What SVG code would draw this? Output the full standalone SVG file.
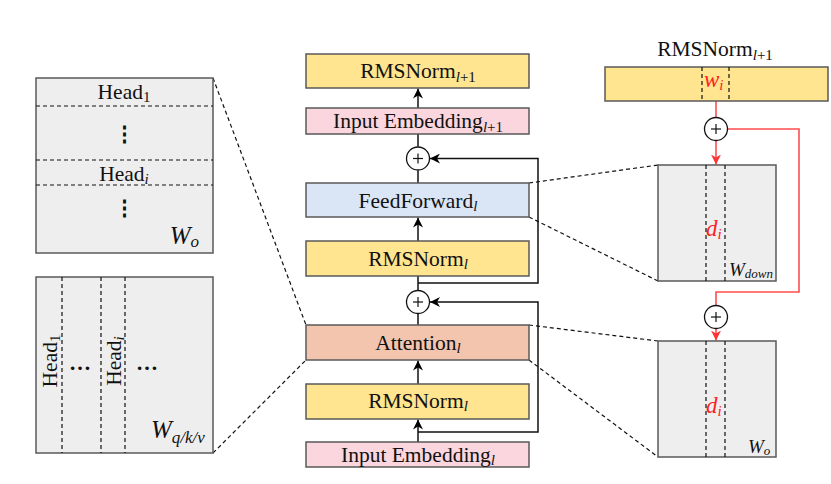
<svg xmlns="http://www.w3.org/2000/svg" width="831" height="484" viewBox="0 0 831 484">
<defs>
<marker id="ah" viewBox="0 0 10 10" refX="10" refY="5" markerWidth="10" markerHeight="10" markerUnits="userSpaceOnUse" orient="auto">
<path d="M0,0 L10,5 L0,10 L3,5 Z" fill="#000"/>
</marker>
<marker id="ahr" viewBox="0 0 10 10" refX="10" refY="5" markerWidth="10" markerHeight="10" markerUnits="userSpaceOnUse" orient="auto">
<path d="M0,0 L10,5 L0,10 L3,5 Z" fill="#FF3333"/>
</marker>
</defs>
<style>
text{font-family:"Liberation Serif","Times New Roman",serif;fill:#111}
.t{font-size:21.5px;text-anchor:middle}
.sub{font-size:15px;font-style:italic}
.sup{font-size:15px}
.box{stroke:#595959;stroke-width:1.5}
.yel{fill:#FFE58F}
.pink{fill:#FBD6DE}
.blue{fill:#DAE5F6}
.att{fill:#F3C5AE}
.gray{fill:#EEEEEE}
.dash{stroke:#111;stroke-width:1.2;stroke-dasharray:4,3;fill:none}
.ln{stroke:#111;stroke-width:1.5;fill:none}
.red{stroke:#FF4D4D;stroke-width:1.6;fill:none}
.plus{fill:#fff;stroke:#111;stroke-width:1.3}
.pl{stroke:#111;stroke-width:1.2}
.ri{fill:#FF2020;font-style:italic;font-size:23px}
</style>

<g id="connectors">
<line class="ln" x1="418" y1="108" x2="418" y2="88.5" marker-end="url(#ah)"/>
<line class="ln" x1="418" y1="146.5" x2="418" y2="134"/>
<line class="ln" x1="418" y1="183" x2="418" y2="170.5"/>
<line class="ln" x1="418" y1="241" x2="418" y2="217.5" marker-end="url(#ah)"/>
<line class="ln" x1="418" y1="290.5" x2="418" y2="276"/>
<line class="ln" x1="418" y1="325" x2="418" y2="313.5"/>
<line class="ln" x1="418" y1="384" x2="418" y2="360.5" marker-end="url(#ah)"/>
<line class="ln" x1="418" y1="442" x2="418" y2="419.5" marker-end="url(#ah)"/>
<polyline class="ln" points="418,283 538,283 538,158.5 430,158.5" marker-end="url(#ah)"/>
<polyline class="ln" points="418,432 538,432 538,302 430,302" marker-end="url(#ah)"/>
<line class="dash" x1="213" y1="78" x2="306" y2="325"/>
<line class="dash" x1="213" y1="453" x2="306" y2="360"/>
<line class="dash" x1="529" y1="183" x2="658" y2="165"/>
<line class="dash" x1="529" y1="217" x2="658" y2="281"/>
<line class="dash" x1="529" y1="325" x2="658" y2="341"/>
<line class="dash" x1="529" y1="360" x2="658" y2="457"/>
<line class="red" x1="716" y1="101" x2="716" y2="117.5"/>
<line class="red" x1="716" y1="140.5" x2="716" y2="164.5" marker-end="url(#ahr)"/>
<polyline class="red" points="727.5,129 799,129 799,292 716,292 716,305.5"/>
<line class="red" x1="716" y1="328.5" x2="716" y2="340.5" marker-end="url(#ahr)"/>
</g>

<g id="wo-left">
<rect class="box gray" x="36" y="78" width="177" height="175"/>
<line class="dash" x1="36" y1="106" x2="213" y2="106"/>
<line class="dash" x1="36" y1="160" x2="213" y2="160"/>
<line class="dash" x1="36" y1="185" x2="213" y2="185"/>
<text class="t" x="124" y="98.5">Head<tspan class="sup" dy="3">1</tspan></text>
<text class="t" x="124" y="141" style="font-family:'DejaVu Serif',serif;font-size:21px;font-weight:bold">⋮</text>
<text class="t" x="124" y="180.5">Head<tspan class="sub" dy="3">i</tspan></text>
<text class="t" x="124" y="215" style="font-family:'DejaVu Serif',serif;font-size:21px;font-weight:bold">⋮</text>
<text x="199" y="244" style="font-size:25px;font-style:italic;text-anchor:end">W<tspan style="font-size:17px" dy="3">o</tspan></text>
</g>

<g id="wqkv-left">
<rect class="box gray" x="36" y="277" width="177" height="176"/>
<line class="dash" x1="62" y1="277" x2="62" y2="453"/>
<line class="dash" x1="101" y1="277" x2="101" y2="453"/>
<line class="dash" x1="125" y1="277" x2="125" y2="453"/>
<text class="t" transform="translate(57,361) rotate(-90)">Head<tspan class="sup" dy="3">1</tspan></text>
<text class="t" transform="translate(121,361) rotate(-90)">Head<tspan class="sub" dy="3">i</tspan></text>
<text class="t" x="80" y="370" style="font-weight:bold;font-size:22px">…</text>
<text class="t" x="147" y="370" style="font-weight:bold;font-size:22px">…</text>
<text x="151" y="438" style="font-size:25px;font-style:italic">W<tspan style="font-size:17px" dy="5">q/k/v</tspan></text>
</g>

<g id="rmsnorm-l1">
<rect class="box yel" x="306" y="54" width="223" height="34"/>
<text class="t" x="418" y="78">RMSNorm<tspan class="sub" dy="4">l</tspan><tspan class="sup">+1</tspan></text>
</g>
<g id="embed-l1">
<rect class="box pink" x="306" y="108" width="223" height="26"/>
<text class="t" x="418" y="127.5">Input Embedding<tspan class="sub" dy="4">l</tspan><tspan class="sup">+1</tspan></text>
</g>
<g id="plus1">
<circle class="plus" cx="418" cy="158.5" r="11.5"/>
<line class="pl" x1="413" y1="158.5" x2="423" y2="158.5"/>
<line class="pl" x1="418" y1="153.5" x2="418" y2="163.5"/>
</g>
<g id="ffn">
<rect class="box blue" x="306" y="183" width="223" height="34"/>
<text class="t" x="418" y="207.5">FeedForward<tspan class="sub" dy="3">l</tspan></text>
</g>
<g id="rmsnorm-up">
<rect class="box yel" x="306" y="241" width="223" height="35"/>
<text class="t" x="418" y="266">RMSNorm<tspan class="sub" dy="3">l</tspan></text>
</g>
<g id="plus2">
<circle class="plus" cx="418" cy="302" r="11.5"/>
<line class="pl" x1="413" y1="302" x2="423" y2="302"/>
<line class="pl" x1="418" y1="297" x2="418" y2="307"/>
</g>
<g id="attention">
<rect class="box att" x="306" y="325" width="223" height="35"/>
<text class="t" x="418" y="349.5">Attention<tspan class="sub" dy="3">l</tspan></text>
</g>
<g id="rmsnorm-low">
<rect class="box yel" x="306" y="384" width="223" height="35"/>
<text class="t" x="418" y="408">RMSNorm<tspan class="sub" dy="3">l</tspan></text>
</g>
<g id="embed-l">
<rect class="box pink" x="306" y="442" width="223" height="25"/>
<text class="t" x="418" y="461.5">Input Embedding<tspan class="sub" dy="3">l</tspan></text>
</g>

<g id="rmsnorm-right">
<text class="t" x="715" y="56">RMSNorm<tspan class="sub" dy="4">l</tspan><tspan class="sup">+1</tspan></text>
<rect class="box yel" x="605" y="67" width="223" height="34"/>
<line class="dash" x1="702" y1="67" x2="702" y2="101"/>
<line class="dash" x1="729" y1="67" x2="729" y2="101"/>
<text class="ri" x="704" y="87">w<tspan style="font-size:15px" dy="3">i</tspan></text>
</g>
<g id="plus-r1">
<circle class="plus" cx="716" cy="129" r="11.5"/>
<line class="pl" x1="711" y1="129" x2="721" y2="129"/>
<line class="pl" x1="716" y1="124" x2="716" y2="134"/>
</g>
<g id="wdown">
<rect class="box gray" x="658" y="165" width="118" height="116"/>
<line class="dash" x1="706" y1="165" x2="706" y2="281"/>
<line class="dash" x1="725" y1="165" x2="725" y2="281"/>
<text class="ri" x="706" y="235.5">d<tspan style="font-size:15px" dy="3">i</tspan></text>
<text x="729" y="276" style="font-size:19px;font-style:italic">W<tspan style="font-size:13px" dy="2">down</tspan></text>
</g>
<g id="plus-r2">
<circle class="plus" cx="716" cy="317" r="11.5"/>
<line class="pl" x1="711" y1="317" x2="721" y2="317"/>
<line class="pl" x1="716" y1="312" x2="716" y2="322"/>
</g>
<g id="wo-right">
<rect class="box gray" x="658" y="341" width="118" height="116"/>
<line class="dash" x1="706" y1="341" x2="706" y2="457"/>
<line class="dash" x1="725" y1="341" x2="725" y2="457"/>
<text class="ri" x="706" y="412.5">d<tspan style="font-size:15px" dy="3">i</tspan></text>
<text x="748" y="453" style="font-size:19px;font-style:italic">W<tspan style="font-size:13px" dy="2">o</tspan></text>
</g>
</svg>
